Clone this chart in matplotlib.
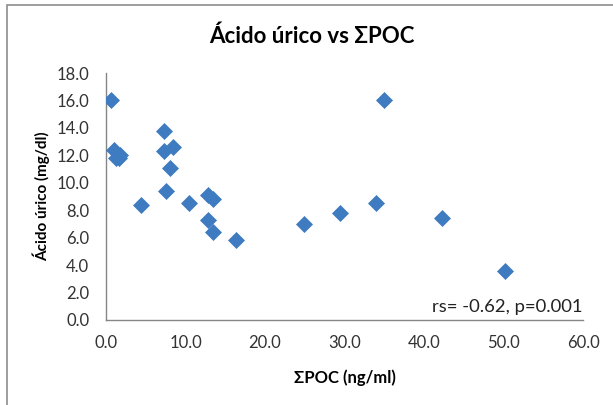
import matplotlib
matplotlib.use("Agg")
import matplotlib.pyplot as plt
from matplotlib.patches import Rectangle

plt.rcParams['font.family'] = ['Lato', 'DejaVu Sans']

poc = [0.6, 7.3, 1.0, 1.2, 1.8, 1.6, 7.3, 8.4, 8.0, 7.5, 4.4, 10.5, 12.8, 13.4, 12.8, 13.4, 16.4,
       35.0, 24.9, 29.4, 34.0, 42.3, 50.2]
uric = [16.0, 13.8, 12.4, 11.8, 12.0, 11.8, 12.3, 12.6, 11.1, 9.4, 8.4, 8.55, 9.1, 8.8, 7.3, 6.4, 5.8,
        16.0, 7.0, 7.8, 8.55, 7.4, 3.6]
xticks = [0, 10, 20, 30, 40, 50, 60]
yticks = [0, 2, 4, 6, 8, 10, 12, 14, 16, 18]

W, H = 613, 405
fig = plt.figure(figsize=(W/100, H/100), dpi=100)
fig.patches.append(Rectangle((7/W, -0.1), 1.2, (H-5)/H + 0.1, transform=fig.transFigure,
                             fill=False, edgecolor='#8c8c8c', linewidth=1.2))

ax = fig.add_axes([106/W, (H-320)/H, (583-106)/W, (320-73)/H])
ax.scatter(poc, uric, marker='D', s=75, color='#3F7BC0', linewidths=0, zorder=3)
ax.set_xlim(0, 60)
ax.set_ylim(0, 18)
ax.set_xticks(xticks)
ax.set_yticks(yticks)
ax.set_xticklabels([f"{v:.1f}" for v in xticks])
ax.set_yticklabels([f"{v:.1f}" for v in yticks])
for s in ['top', 'right']:
    ax.spines[s].set_visible(False)
for s in ['left', 'bottom']:
    ax.spines[s].set_color('#868686')
    ax.spines[s].set_linewidth(1.0)
ax.tick_params(length=0, labelsize=12, pad=11)
ax.tick_params(axis='y', pad=12)
for lab in ax.get_xticklabels() + ax.get_yticklabels():
    lab.set_color('#333333')

ax.set_xlabel('ΣPOC (ng/ml)', fontsize=12, fontweight='bold', labelpad=13)
ax.set_ylabel('Ácido úrico (mg/dl)', fontsize=11, fontweight='bold', labelpad=5)
fig.text(312/W, (H-36)/H, 'Ácido úrico vs ΣPOC', ha='center', va='center', fontsize=16, fontweight='bold')
ax.text(60, 0.35, 'rs= -0.62, p=0.001', ha='right', va='bottom', fontsize=13.3, color='#222222')

fig.savefig('out.png', dpi=100)
